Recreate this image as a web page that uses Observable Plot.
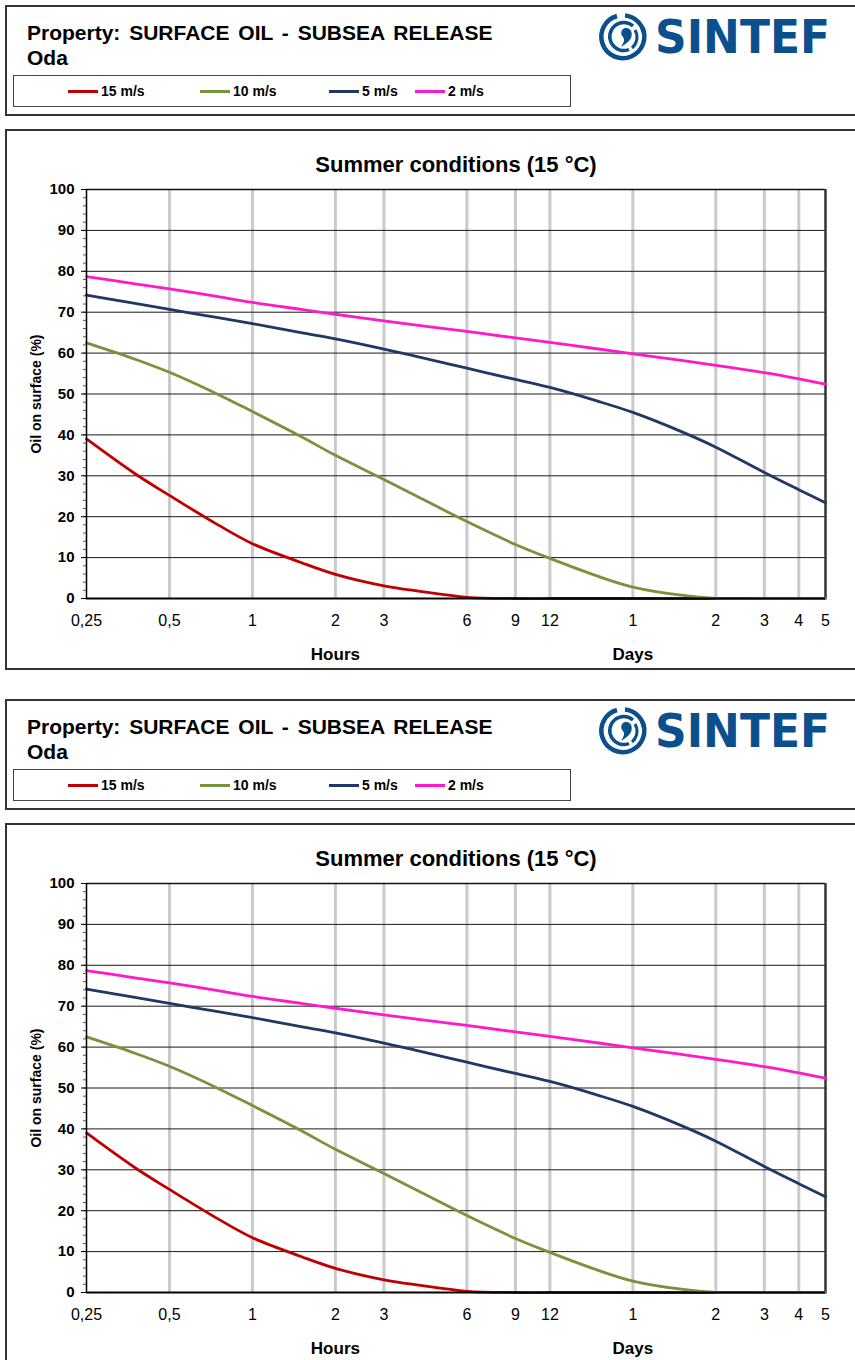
<!DOCTYPE html>
<html>
<head>
<meta charset="utf-8">
<script src="https://cdn.jsdelivr.net/npm/d3@7"></script>
<script src="https://cdn.jsdelivr.net/npm/@observablehq/plot@0.6"></script>
<style>
  html, body { margin: 0; padding: 0; background: #fff; }
  body { width: 855px; height: 1360px; overflow: hidden; position: relative; font-family: "Liberation Sans", Arial, sans-serif; }
  .box { position: absolute; left: 5px; width: 870px; border: 2px solid #333; box-sizing: border-box; }
  .ptitle { position: absolute; left: 27px; font-weight: bold; font-size: 21px; line-height: 25px; color: #000; word-spacing: 3px; white-space: nowrap; }
  .legend { position: absolute; left: 13px; width: 558px; height: 32px; border: 1px solid #444; box-sizing: border-box; }
  .litem { position: absolute; top: 0; height: 30px; font-weight: bold; font-size: 14px; line-height: 30px; }
  .litem span.sw { position: absolute; left: 0; top: 14px; width: 30px; height: 3px; }
  .litem span.tx { position: absolute; left: 33px; top: 0; white-space: nowrap; }
  .logo { position: absolute; left: 596px; }
  .chart { position: absolute; left: 0; }
</style>
</head>
<body>
<script>
// ---- data ----
const hours  = [0.25, 0.375, 0.5, 0.75, 1, 1.5, 2, 3, 4, 6, 9, 12, 18, 24, 36, 48, 72, 96, 120];
const wind15 = [39, 30.5, 25.2, 18.0, 13.4, 8.8, 5.9, 3.1, 1.8, 0.3, 0, 0, 0, 0, 0, 0, 0, 0, 0];
const wind10 = [62.5, 58.5, 55.3, 49.9, 45.7, 39.6, 35.0, 29.1, 24.8, 18.8, 13.2, 9.8, 5.4, 2.8, 0.8, 0.05, 0, 0, 0];
const wind5  = [74.2, 72.15, 70.7, 68.65, 67.2, 65.0, 63.5, 61.0, 59.05, 56.3, 53.55, 51.6, 48.2, 45.5, 40.8, 37.0, 30.8, 26.6, 23.4];
const wind2  = [78.7, 76.95, 75.7, 73.8, 72.4, 70.7, 69.5, 67.9, 66.8, 65.3, 63.7, 62.6, 61.0, 59.8, 58.2, 57.0, 55.2, 53.7, 52.4];
const seriesNames = ["15 m/s", "10 m/s", "5 m/s", "2 m/s"];
const seriesColors = ["#c00000", "#77933c", "#1f3864", "#ff19c8"];
const xTickValues = [0.25, 0.5, 1, 2, 3, 6, 9, 12, 24, 48, 72, 96, 120];
const xTickLabels = ["0,25", "0,5", "1", "2", "3", "6", "9", "12", "1", "2", "3", "4", "5"];
const yMajor = [0, 10, 20, 30, 40, 50, 60, 70, 80, 90, 100];
const yMinor = d3.range(0, 101, 2);
const unitLabels = [{x: 2, label: "Hours"}, {x: 24, label: "Days"}];
const titleText = "Property: SURFACE OIL - SUBSEA RELEASE";
const oilName = "Oda";
const chartTitle = "Summer conditions (15 °C)";
const yLabel = "Oil on surface (%)";

const seriesValues = [wind15, wind10, wind5, wind2];
const rows = [];
seriesNames.forEach((s, i) => hours.forEach((h, j) => rows.push({series: s, h, v: seriesValues[i][j]})));
const xTicks = xTickValues.map((v, i) => ({v, label: xTickLabels[i]}));

function logoSVG() {
  const c = "#0b4f8c";
  return `<svg xmlns="http://www.w3.org/2000/svg" width="245" height="56" viewBox="0 0 245 56">
    <g transform="translate(27,28)" fill="none" stroke="${c}">
      <path d="M -6 -21 A 21.5 21.5 0 1 0 19 -10" stroke-width="4.5"/>
      <path d="M 2 -21.5 A 21.5 21.5 0 0 1 21 -4" stroke-width="4.5"/>
      <path d="M 10 -11 A 14 14 0 1 0 6 12.5" stroke-width="3.5"/>
      <path d="M 12 -7 A 14 14 0 0 1 9 11" stroke-width="3"/>
      <path d="M 2 -9 C 8 -10, 10 -4, 8 1 C 6 5, 2 7, -2 10 C 1 5, 2 3, 0 0 C -3 -3, -2 -8, 2 -9 Z" fill="${c}" stroke="none"/>
    </g>
    <text x="59" y="44" fill="${c}" font-family="DejaVu Sans" font-weight="bold" font-size="46" textLength="175" lengthAdjust="spacingAndGlyphs">SINTEF</text>
  </svg>`;
}

function header(top) {
  const box = document.createElement("div");
  box.className = "box";
  box.style.top = top + "px";
  box.style.height = "111px";
  document.body.appendChild(box);

  const t1 = document.createElement("div");
  t1.className = "ptitle"; t1.style.top = (top + 15) + "px"; t1.textContent = titleText;
  document.body.appendChild(t1);
  const t2 = document.createElement("div");
  t2.className = "ptitle"; t2.style.top = (top + 40) + "px"; t2.textContent = oilName;
  document.body.appendChild(t2);

  const lg = document.createElement("div");
  lg.className = "legend"; lg.style.top = (top + 70) + "px";
  const lefts = [54, 186, 315, 401];
  seriesNames.forEach((s, i) => {
    const it = document.createElement("div");
    it.className = "litem"; it.style.left = lefts[i] + "px";
    it.innerHTML = `<span class="sw" style="background:${seriesColors[i]}"></span><span class="tx">${s}</span>`;
    lg.appendChild(it);
  });
  document.body.appendChild(lg);

  const logo = document.createElement("div");
  logo.className = "logo"; logo.style.top = (top + 4) + "px";
  logo.innerHTML = logoSVG();
  document.body.appendChild(logo);
}

function chart(top) {
  const box = document.createElement("div");
  box.className = "box";
  box.style.top = top + "px";
  box.style.height = "541px";
  document.body.appendChild(box);

  const p = Plot.plot({
    width: 855,
    height: 541,
    marginLeft: 86,
    marginRight: 30,
    marginTop: 60,
    marginBottom: 72,
    style: {fontFamily: "'Liberation Sans', Arial, sans-serif", background: "transparent", color: "#000", overflow: "visible"},
    x: {type: "log", domain: [0.25, 120], axis: null},
    y: {domain: [0, 100]},
    color: {domain: seriesNames, range: seriesColors},
    marks: [
      Plot.ruleX(xTickValues.slice(1, -1), {stroke: "#cacaca", strokeWidth: 3}),
      Plot.ruleY(yMajor.slice(1, -1), {stroke: "#1a1a1a", strokeWidth: 1}),
      Plot.ruleY([100], {stroke: "#111", strokeWidth: 1.5}),
      Plot.ruleX([120], {stroke: "#333", strokeWidth: 2.5}),
      Plot.line(rows, {x: "h", y: "v", stroke: "series", z: "series", curve: "catmull-rom", strokeWidth: 2.8}),
      Plot.ruleX([0.25], {stroke: "#000", strokeWidth: 1.5}),
      Plot.ruleY([0], {stroke: "#000", strokeWidth: 2}),
      Plot.axisY({ticks: yMinor, tickSize: 3, text: null, label: null, stroke: "#555"}),
      Plot.axisY({ticks: yMajor, tickSize: 5, tickPadding: 7, label: null, fontSize: 15, fontWeight: "bold", stroke: "#000"}),
      Plot.text(xTicks, {x: "v", text: "label", frameAnchor: "bottom", lineAnchor: "middle", dy: 22, fontSize: 16}),
      Plot.text(unitLabels, {x: "x", text: "label", frameAnchor: "bottom", lineAnchor: "middle", dy: 56, fontSize: 17, fontWeight: "bold"}),
      Plot.text([chartTitle], {frameAnchor: "top", lineAnchor: "middle", dy: -25, fontSize: 22, fontWeight: "bold"}),
      Plot.text([yLabel], {frameAnchor: "left", textAnchor: "middle", lineAnchor: "middle", dx: -50, rotate: -90, fontSize: 14, fontWeight: "bold"})
    ]
  });
  p.classList.add("chart");
  p.style.top = top + "px";
  document.body.appendChild(p);
}

header(5);
chart(129);
header(699);
chart(823);
</script>
</body>
</html>
